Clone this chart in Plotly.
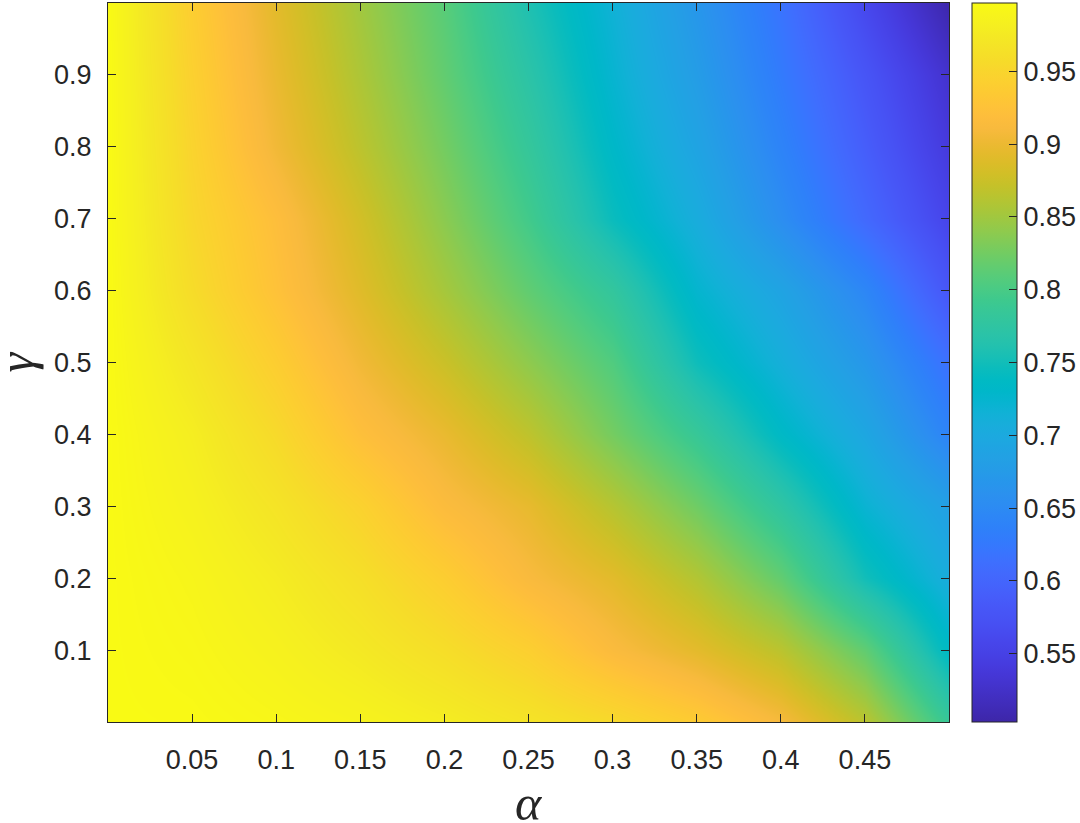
import plotly.graph_objects as go

# grid: alpha across, gamma down the rows
alpha = [0.0, 0.05, 0.1, 0.15, 0.2, 0.25, 0.3, 0.35, 0.4, 0.45, 0.5]
gamma = [0.0, 0.1, 0.2, 0.3, 0.4, 0.5, 0.6, 0.7, 0.8, 0.9, 1.0]

row_g00 = [0.997, 0.996, 0.992, 0.987, 0.979, 0.968, 0.955, 0.937, 0.910, 0.865, 0.785]
row_g01 = [0.997, 0.993, 0.985, 0.974, 0.960, 0.942, 0.914, 0.893, 0.865, 0.815, 0.735]
row_g02 = [0.997, 0.990, 0.978, 0.962, 0.940, 0.912, 0.892, 0.860, 0.816, 0.750, 0.705]
row_g03 = [0.997, 0.985, 0.968, 0.946, 0.916, 0.896, 0.862, 0.823, 0.775, 0.720, 0.683]
row_g04 = [0.997, 0.980, 0.955, 0.922, 0.898, 0.867, 0.826, 0.785, 0.735, 0.695, 0.640]
row_g05 = [0.997, 0.970, 0.940, 0.905, 0.875, 0.840, 0.805, 0.748, 0.710, 0.670, 0.615]
row_g06 = [0.997, 0.958, 0.925, 0.890, 0.853, 0.815, 0.780, 0.725, 0.690, 0.645, 0.580]
row_g07 = [0.997, 0.952, 0.920, 0.880, 0.838, 0.795, 0.745, 0.705, 0.655, 0.605, 0.555]
row_g08 = [0.997, 0.948, 0.905, 0.866, 0.826, 0.782, 0.732, 0.690, 0.640, 0.590, 0.540]
row_g09 = [0.997, 0.944, 0.898, 0.857, 0.816, 0.770, 0.722, 0.678, 0.628, 0.578, 0.528]
row_g10 = [0.997, 0.940, 0.892, 0.850, 0.810, 0.758, 0.715, 0.668, 0.618, 0.560, 0.505]

x_ticks = [0.05, 0.1, 0.15, 0.2, 0.25, 0.3, 0.35, 0.4, 0.45]
x_labels = ["0.05", "0.1", "0.15", "0.2", "0.25", "0.3", "0.35", "0.4", "0.45"]
y_ticks = [0.1, 0.2, 0.3, 0.4, 0.5, 0.6, 0.7, 0.8, 0.9]
y_labels = ["0.1", "0.2", "0.3", "0.4", "0.5", "0.6", "0.7", "0.8", "0.9"]
cb_ticks = [0.55, 0.6, 0.65, 0.7, 0.75, 0.8, 0.85, 0.9, 0.95]
cb_labels = ["0.55", "0.6", "0.65", "0.7", "0.75", "0.8", "0.85", "0.9", "0.95"]

z = [row_g00, row_g01, row_g02, row_g03, row_g04, row_g05,
     row_g06, row_g07, row_g08, row_g09, row_g10]

# matlab parula, 64 entries
parula = [
    (0.2422, 0.1504, 0.6603), (0.2504, 0.1650, 0.7076), (0.2578, 0.1818, 0.7511),
    (0.2647, 0.1978, 0.7952), (0.2706, 0.2147, 0.8364), (0.2751, 0.2342, 0.8710),
    (0.2783, 0.2559, 0.8991), (0.2803, 0.2782, 0.9221), (0.2813, 0.3006, 0.9414),
    (0.2810, 0.3228, 0.9579), (0.2795, 0.3447, 0.9717), (0.2760, 0.3667, 0.9829),
    (0.2699, 0.3892, 0.9906), (0.2602, 0.4123, 0.9952), (0.2440, 0.4358, 0.9988),
    (0.2206, 0.4603, 0.9973), (0.1963, 0.4847, 0.9892), (0.1834, 0.5074, 0.9798),
    (0.1786, 0.5289, 0.9682), (0.1764, 0.5499, 0.9520), (0.1687, 0.5703, 0.9359),
    (0.1540, 0.5902, 0.9218), (0.1460, 0.6091, 0.9079), (0.1380, 0.6276, 0.8973),
    (0.1248, 0.6459, 0.8883), (0.1113, 0.6635, 0.8763), (0.0952, 0.6798, 0.8598),
    (0.0689, 0.6948, 0.8394), (0.0297, 0.7082, 0.8163), (0.0036, 0.7203, 0.7917),
    (0.0067, 0.7312, 0.7660), (0.0433, 0.7411, 0.7394), (0.0964, 0.7500, 0.7120),
    (0.1408, 0.7584, 0.6842), (0.1717, 0.7670, 0.6554), (0.1938, 0.7758, 0.6251),
    (0.2161, 0.7843, 0.5923), (0.2470, 0.7918, 0.5567), (0.2906, 0.7973, 0.5188),
    (0.3406, 0.8008, 0.4789), (0.3909, 0.8029, 0.4354), (0.4456, 0.8024, 0.3909),
    (0.5044, 0.7993, 0.3480), (0.5616, 0.7942, 0.3045), (0.6174, 0.7876, 0.2612),
    (0.6720, 0.7793, 0.2227), (0.7242, 0.7698, 0.1910), (0.7738, 0.7598, 0.1646),
    (0.8203, 0.7498, 0.1535), (0.8634, 0.7406, 0.1596), (0.9035, 0.7330, 0.1774),
    (0.9393, 0.7288, 0.2100), (0.9728, 0.7298, 0.2394), (0.9956, 0.7434, 0.2371),
    (0.9970, 0.7659, 0.2199), (0.9952, 0.7893, 0.2028), (0.9892, 0.8136, 0.1885),
    (0.9786, 0.8386, 0.1766), (0.9676, 0.8639, 0.1643), (0.9610, 0.8890, 0.1537),
    (0.9597, 0.9135, 0.1423), (0.9628, 0.9373, 0.1265), (0.9691, 0.9606, 0.1064),
    (0.9769, 0.9839, 0.0805),
]
cscale = [[i / 63, "rgb(%d,%d,%d)" % (r * 255, g * 255, b * 255)]
          for i, (r, g, b) in enumerate(parula)]

ink = "rgb(38,38,38)"
tickfont = dict(family="Liberation Sans, Arial, sans-serif", size=27, color=ink)

fig = go.Figure(go.Heatmap(
    x=alpha, y=gamma, z=z,
    zsmooth="best",
    colorscale=cscale, zmin=0.503, zmax=0.997,
    colorbar=dict(
        x=1.0273, xanchor="left", y=0.5, yanchor="middle",
        len=1, lenmode="fraction", thickness=45, xpad=0, ypad=0,
        outlinewidth=1, outlinecolor=ink,
        ticks="inside", ticklen=8, tickcolor=ink, tickwidth=1,
        tickvals=cb_ticks, ticktext=cb_labels,
        tickfont=tickfont,
    ),
))

axis_common = dict(
    showgrid=False, zeroline=False,
    showline=True, linecolor=ink, linewidth=1, mirror="ticks",
    ticks="inside", ticklen=8, tickcolor=ink, tickwidth=1,
    tickfont=tickfont,
)

fig.update_xaxes(range=[0, 0.5], tickvals=x_ticks, ticktext=x_labels,
                 ticklabelstandoff=14, **axis_common)
fig.update_yaxes(range=[0, 1], tickvals=y_ticks, ticktext=y_labels,
                 ticklabelstandoff=10, **axis_common)

# axis symbols: tight text boxes so they sit where matlab put them
label_font = dict(family="Liberation Serif, serif", size=50, color=ink, style="italic")
fig.add_annotation(text="α", xref="paper", yref="paper", x=0.5, y=-0.1127,
                   xanchor="center", yanchor="middle", showarrow=False,
                   height=38, valign="middle", font=label_font)
fig.add_annotation(text="γ", xref="paper", yref="paper", x=-0.1272, y=0.5,
                   xanchor="left", yanchor="middle", showarrow=False, textangle=-90,
                   height=40, valign="bottom", font=label_font)

fig.update_layout(
    width=1080, height=823,
    margin=dict(l=108, r=131, t=3, b=101, autoexpand=False),
    paper_bgcolor="white", plot_bgcolor="white",
)

# drop the page's default body margin so the figure sits at the window corner
fig.write_html("out.html", config={"displayModeBar": False},
               post_script="document.body.style.margin = '0';")
